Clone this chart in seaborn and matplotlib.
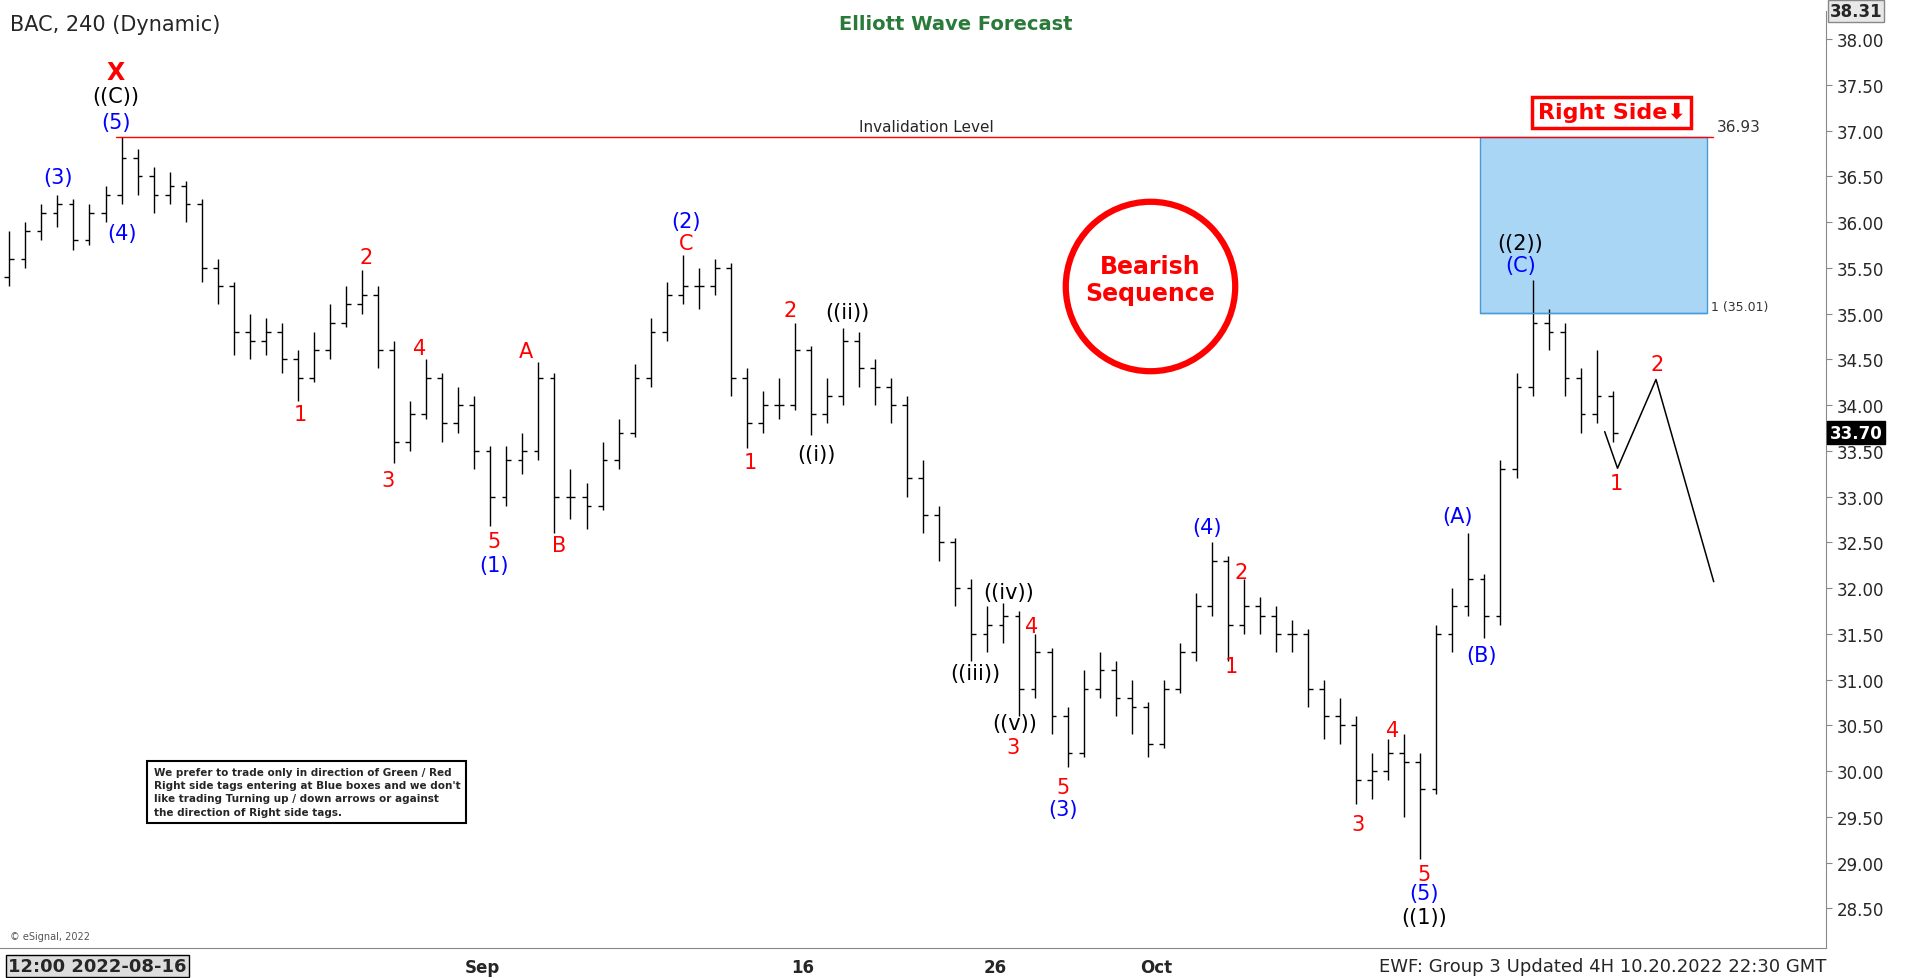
import matplotlib
matplotlib.use('Agg')
import matplotlib.pyplot as plt
import matplotlib.patches as mpatches
import seaborn as sns
import pandas as pd

sns.set_style('white')
plt.rcParams['font.family'] = ['DejaVu Sans']

# bar position: trading days since 2022-08-16 (2 bars per day)
bar_day = [-2.75 + 0.5 * i for i in range(101)]
opens = [35.4, 35.6, 35.9, 36.1, 36.2, 35.8, 36.1, 36.3, 36.7, 36.5, 36.3, 36.4, 36.2, 35.5, 35.3, 34.8, 34.7, 34.8,
         34.5, 34.3, 34.6, 34.9, 35.1, 35.2, 34.6, 33.6, 33.9, 34.3, 33.8, 34.0, 33.5, 33.0, 33.4, 33.5, 34.3, 33.0,
         33.0, 32.9, 33.4, 33.7, 34.3, 34.8, 35.2, 35.3, 35.3, 35.5, 34.3, 33.8, 34.0, 34.0, 34.6, 33.9, 34.1, 34.7,
         34.4, 34.2, 34.0, 33.2, 32.8, 32.5, 32.0, 31.5, 31.6, 31.7, 30.9, 31.3, 30.6, 30.2, 30.9, 31.1, 30.8, 30.7,
         30.3, 30.9, 31.3, 31.8, 32.3, 31.6, 31.8, 31.7, 31.5, 31.5, 30.9, 30.6, 30.5, 29.9, 30.0, 30.2, 30.1, 29.8,
         31.5, 31.8, 32.1, 31.7, 33.3, 34.2, 34.9, 34.8, 34.3, 33.9, 34.1]
closes = [35.6, 35.9, 36.1, 36.2, 35.8, 36.1, 36.3, 36.7, 36.5, 36.3, 36.4, 36.2, 35.5, 35.3, 34.8, 34.7, 34.8, 34.5,
          34.3, 34.6, 34.9, 35.1, 35.2, 34.6, 33.6, 33.9, 34.3, 33.8, 34.0, 33.5, 33.0, 33.4, 33.5, 34.3, 33.0, 33.0,
          32.9, 33.4, 33.7, 34.3, 34.8, 35.2, 35.3, 35.3, 35.5, 34.3, 33.8, 34.0, 34.0, 34.6, 33.9, 34.1, 34.7, 34.4,
          34.2, 34.0, 33.2, 32.8, 32.5, 32.0, 31.5, 31.6, 31.7, 30.9, 31.3, 30.6, 30.2, 30.9, 31.1, 30.8, 30.7, 30.3,
          30.9, 31.3, 31.8, 32.3, 31.6, 31.8, 31.7, 31.5, 31.5, 30.9, 30.6, 30.5, 29.9, 30.0, 30.2, 30.1, 29.8, 31.5,
          31.8, 32.1, 31.7, 33.3, 34.2, 34.9, 34.8, 34.3, 33.9, 34.1, 33.7]
highs = [35.9, 36.0, 36.2, 36.3, 36.25, 36.2, 36.4, 36.93, 36.8, 36.6, 36.55, 36.45, 36.25, 35.6, 35.35, 35.0, 34.95,
         34.9, 34.6, 34.8, 35.1, 35.3, 35.48, 35.3, 34.7, 34.05, 34.5, 34.35, 34.2, 34.1, 33.55, 33.55, 33.7, 34.47,
         34.35, 33.3, 33.15, 33.6, 33.85, 34.45, 34.95, 35.35, 35.64, 35.5, 35.6, 35.55, 34.4, 34.15, 34.3, 34.9,
         34.65, 34.3, 34.84, 34.8, 34.5, 34.3, 34.1, 33.4, 32.9, 32.55, 32.1, 31.8, 31.84, 31.75, 31.5, 31.35, 30.7,
         31.1, 31.3, 31.2, 31.0, 30.75, 31.0, 31.4, 31.95, 32.5, 32.35, 32.1, 31.9, 31.8, 31.65, 31.55, 31.0, 30.8,
         30.6, 30.2, 30.35, 30.4, 30.2, 31.6, 32.0, 32.6, 32.15, 33.4, 34.35, 35.37, 35.05, 34.9, 34.4, 34.6, 34.15]
lows = [35.3, 35.5, 35.8, 35.95, 35.7, 35.75, 36.0, 36.2, 36.3, 36.1, 36.2, 36.0, 35.35, 35.1, 34.55, 34.5, 34.55,
        34.35, 34.05, 34.25, 34.5, 34.85, 35.0, 34.4, 33.37, 33.5, 33.85, 33.6, 33.7, 33.3, 32.68, 32.9, 33.25, 33.4,
        32.6, 32.75, 32.65, 32.85, 33.3, 33.65, 34.2, 34.7, 35.1, 35.05, 35.2, 34.1, 33.53, 33.7, 33.85, 33.95, 33.67,
        33.8, 34.0, 34.2, 34.0, 33.8, 33.0, 32.6, 32.3, 31.8, 31.2, 31.3, 31.4, 30.6, 30.8, 30.4, 30.04, 30.15, 30.8,
        30.6, 30.4, 30.15, 30.25, 30.85, 31.2, 31.7, 31.2, 31.5, 31.5, 31.3, 31.3, 30.7, 30.35, 30.3, 29.64, 29.7,
        29.9, 29.5, 29.04, 29.75, 31.3, 31.7, 31.45, 31.6, 33.2, 34.1, 34.6, 34.1, 33.7, 33.8, 33.6]

proj_day = [47.0, 47.4, 48.6, 50.4]
proj_price = [33.71, 33.31, 34.28, 32.07]

x_tick_days = [0, 12, 22, 28, 33, 43]
x_tick_labels = ['', 'Sep', '16', '26', 'Oct', '']
y_ticks = [28.5 + 0.5 * k for k in range(20)]

# wave labels given in reference-picture pixels (1568 wide preview)
labels = [(95, 60, 'X', 'red'), (95, 80, '((C))', 'black'), (95, 101, '(5)', 'blue'), (48, 146, '(3)', 'blue'),
          (100, 192, '(4)', 'blue'), (246, 340, '1', 'red'), (300, 212, '2', 'red'), (318, 394, '3', 'red'),
          (344, 286, '4', 'red'), (405, 444, '5', 'red'), (405, 464, '(1)', 'blue'), (431, 289, 'A', 'red'),
          (459, 448, 'B', 'red'), (563, 182, '(2)', 'blue'), (563, 200, 'C', 'red'), (615, 380, '1', 'red'),
          (648, 255, '2', 'red'), (670, 373, '((i))', 'black'), (695, 257, '((ii))', 'black'),
          (800, 553, '((iii))', 'black'), (827, 486, '((iv))', 'black'), (832, 594, '((v))', 'black'),
          (831, 613, '3', 'red'), (846, 514, '4', 'red'), (872, 646, '5', 'red'), (872, 664, '(3)', 'blue'),
          (990, 433, '(4)', 'blue'), (1018, 470, '2', 'red'), (1010, 547, '1', 'red'), (1114, 676, '3', 'red'),
          (1142, 599, '4', 'red'), (1168, 717, '5', 'red'), (1168, 733, '(5)', 'blue'), (1168, 753, '((1))', 'black'),
          (1195, 424, '(A)', 'blue'), (1215, 538, '(B)', 'blue'), (1247, 200, '((2))', 'black'),
          (1247, 218, '(C)', 'blue'), (1326, 397, '1', 'red'), (1359, 299, '2', 'red')]


def px(x, y):
    return (x - 80) / 26.3, 38 - (y - 33) / 75


fig = plt.figure(figsize=(19.12, 9.79), dpi=100)
ax = fig.add_axes([0.0, 0.031, 0.955, 0.957])
ax.set_xlim(-3.04, 53.9)
ax.set_ylim(28.07, 38.31)

ax.vlines(bar_day, lows, highs, color='black', lw=1.0)
ax.hlines(opens, [d - 0.15 for d in bar_day], bar_day, color='black', lw=1.0)
ax.hlines(closes, bar_day, [d + 0.15 for d in bar_day], color='black', lw=1.0)

proj = pd.DataFrame({'day': proj_day, 'price': proj_price})
sns.lineplot(data=proj, x='day', y='price', color='black', lw=1.1, ax=ax, sort=False)

# invalidation line and blue box
x0, _ = px(95, 0)
x1, _ = px(1405, 0)
ax.plot([x0, x1], [36.93, 36.93], color='red', lw=1)
ax.text(px(760, 0)[0], 36.96, 'Invalidation Level', ha='center', va='bottom', fontsize=11)
ax.text(px(1408, 0)[0], 36.96, '36.93', ha='left', va='bottom', fontsize=11, color='#333333')
bx0, _ = px(1214, 0)
bx1, _ = px(1400, 0)
ax.add_patch(mpatches.Rectangle((bx0, 35.01), bx1 - bx0, 36.93 - 35.01, facecolor='#a9d6f5',
                                edgecolor='#4a9ad8', lw=1))
ax.plot([bx0, bx1], [35.01, 35.01], color='#4a9ad8', lw=1)
ax.text(px(1403, 0)[0], 35.01, '1 (35.01)', ha='left', va='bottom', fontsize=9, color='#333333')

# Right side tag
ax.text(*px(1322, 93), 'Right Side\u2b07', ha='center', va='center', fontsize=16, fontweight='bold',
        color='red', bbox=dict(boxstyle='square,pad=0.25', fc='white', ec='red', lw=2.5))

# bearish sequence circle
ax.plot(*px(943, 235), marker='o', markersize=122, mfc='white', mec='red', mew=4.5)
ax.text(*px(943, 230), 'Bearish\nSequence', ha='center', va='center', fontsize=17, fontweight='bold',
        color='red', linespacing=1.2)

for x, y, t, c in labels:
    ax.text(*px(x, y), t, ha='center', va='center', fontsize=15 if t != 'X' else 17,
            fontweight='bold' if t == 'X' else 'normal', color=c)

# notice box
ax.text(*px(126, 650), "We prefer to trade only in direction of Green / Red\nRight side tags entering at Blue boxes "
        "and we don't\nlike trading Turning up / down arrows or against\nthe direction of Right side tags.",
        ha='left', va='center', fontsize=7.5, fontweight='bold', linespacing=1.4,
        bbox=dict(boxstyle='square,pad=0.6', fc='white', ec='black', lw=1.5))

ax.yaxis.tick_right()
ax.set_yticks(y_ticks)
ax.set_yticklabels(['%.2f' % v for v in y_ticks], fontsize=12)
ax.set_xticks(x_tick_days)
ax.set_xticklabels(x_tick_labels, fontsize=12, fontweight='bold')
ax.tick_params(axis='both', length=4, color='#888888')
for s in ['top', 'left']:
    ax.spines[s].set_visible(False)
ax.spines['right'].set_color('#888888')
ax.spines['bottom'].set_color('#888888')
ax.set_xlabel('')
ax.set_ylabel('')

fig.text(0.005, 0.985, 'BAC, 240 (Dynamic)', ha='left', va='top', fontsize=15)
fig.text(0.5, 0.985, 'Elliott Wave Forecast', ha='center', va='top', fontsize=14, fontweight='bold',
         color='#2a7a3a')
ax.text(0, -0.01, '12:00 2022-08-16', transform=ax.get_xaxis_transform(), ha='center', va='top',
        fontsize=13, fontweight='bold', bbox=dict(fc='#dddddd', ec='black', pad=1.5))
fig.text(0.955, 0.003, 'EWF: Group 3 Updated 4H 10.20.2022 22:30 GMT', ha='right', va='bottom', fontsize=13,
         bbox=dict(fc='white', ec='none', pad=1))
fig.text(0.005, 0.04, '\u00a9 eSignal, 2022', fontsize=7, color='#555555')
ax.text(1.002, 38.31, '38.31', transform=ax.get_yaxis_transform(), ha='left', va='center', fontsize=12,
        fontweight='bold', bbox=dict(fc='#e8e8e8', ec='#888888', pad=1.5))
ax.text(1.002, 33.70, '33.70', transform=ax.get_yaxis_transform(), ha='left', va='center', fontsize=12,
        fontweight='bold', color='white', bbox=dict(fc='black', ec='black', pad=2))

fig.savefig('out.png', dpi=100, facecolor='white')
